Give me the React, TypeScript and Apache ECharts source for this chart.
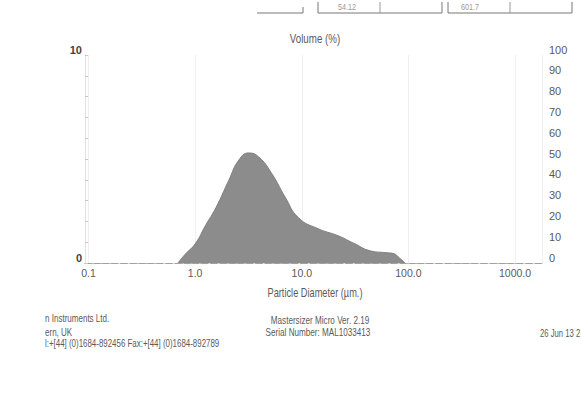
import React, { useEffect, useRef } from "react";
import * as echarts from "echarts";

const diameters = [0.69, 0.8, 1.0, 1.25, 1.57, 2.07, 2.57, 3.18, 3.94, 5.2, 7.0, 9.3, 14.2, 21.9, 31.5, 44.3, 63.8, 74, 80, 93];
const volumes = [0, 0.4, 0.92, 1.8, 2.67, 3.98, 4.95, 5.29, 5.1, 4.32, 3.16, 2.18, 1.65, 1.31, 0.92, 0.58, 0.49, 0.44, 0.3, 0];
const xTickLabels = ["0.1", "1.0", "10.0", "100.0", "1000.0"];
const leftTicks = [0, 10];
const rightTicks = [0, 10, 20, 30, 40, 50, 60, 70, 80, 90, 100];

const FONT = '"Liberation Sans", Arial, sans-serif';
const INK = "#5a5a5a";

export default function App() {
  const ref = useRef<HTMLDivElement>(null);
  useEffect(() => {
    if (!ref.current) return;
    const chart = echarts.init(ref.current, null, { renderer: "svg" });
    const data = diameters.map((d, i) => [d, volumes[i]]);
    const fmtX = (v: number) => {
      const lg = Math.round(Math.log10(v));
      if (Math.abs(Math.log10(v) - lg) > 0.01) return "";
      return xTickLabels[lg + 1] ?? "";
    };
    const txt = (text: string, x: number, y: number, size: number, sx: number, align: string = "left", fill: string = INK) => ({
      type: "text",
      x,
      y,
      scaleX: sx,
      style: { text, font: `${size}px ${FONT}`, fill, textAlign: align, textVerticalAlign: "middle" },
    });
    chart.setOption({
      animation: false,
      backgroundColor: "#ffffff",
      textStyle: { fontFamily: FONT },
      grid: { left: 85, right: 39, top: 55, bottom: 157, containLabel: false },
      xAxis: [
        {
          type: "log",
          logBase: 10,
          min: 0.0927,
          max: 1790,
          position: "bottom",
          axisLine: { show: true, lineStyle: { color: "#b5b5b5", width: 1, type: [3, 2] } },
          axisTick: { show: false },
          axisLabel: {
            fontFamily: FONT,
            fontSize: 10.5,
            color: INK,
            margin: 4,
            showMinLabel: false,
            showMaxLabel: false,
            formatter: fmtX,
          },
          splitLine: { show: true, lineStyle: { color: "#f1f1f1", width: 1 } },
        },
        {
          type: "log",
          logBase: 10,
          min: 0.0927,
          max: 1790,
          position: "top",
          axisLine: { show: true, lineStyle: { color: "#a0a0a0", width: 1, type: [6, 3] } },
          axisTick: { show: false },
          axisLabel: { show: false },
          splitLine: { show: false },
        },
      ],
      yAxis: [
        {
          type: "value",
          min: 0,
          max: 10,
          interval: 1,
          position: "left",
          axisLine: { show: true, lineStyle: { color: "#e2e2e2" } },
          axisTick: { show: true, inside: true, length: 3, lineStyle: { color: "#c8c8c8" } },
          axisLabel: {
            fontFamily: FONT,
            fontSize: 11,
            color: "#444",
            fontWeight: "bold",
            margin: 3,
            verticalAlign: "bottom",
            formatter: (v: number) => (leftTicks.includes(v) ? String(v) : ""),
          },
          splitLine: { show: false },
        },
        {
          type: "value",
          min: 0,
          max: 100,
          interval: 10,
          position: "right",
          axisLine: { show: false },
          axisTick: { show: false },
          axisLabel: {
            fontFamily: FONT,
            fontSize: 11,
            color: INK,
            margin: 7,
            align: "left",
            verticalAlign: "bottom",
            formatter: (v: number) => (rightTicks.includes(v) ? String(v) : ""),
          },
          splitLine: { show: false },
        },
      ],
      series: [
        {
          type: "line",
          xAxisIndex: 0,
          yAxisIndex: 0,
          data,
          smooth: 0.5,
          symbol: "none",
          lineStyle: { color: "#7e7e7e", width: 1 },
          areaStyle: { color: "#8c8c8c", opacity: 1 },
        },
      ],
      graphic: [
        txt("Volume (%)", 315, 38, 13, 0.75, "center"),
        txt("Particle Diameter (\u00b5m.)", 315, 292, 13, 0.71, "center"),
        // header table remnants
        { type: "line", shape: { x1: 257, y1: 13, x2: 303, y2: 13 }, style: { stroke: "#777", lineWidth: 1 } },
        { type: "line", shape: { x1: 303, y1: 7, x2: 303, y2: 13 }, style: { stroke: "#777", lineWidth: 1 } },
        { type: "polyline", shape: { points: [[318, 2], [318, 13], [442, 13], [442, 2]] }, style: { stroke: "#777", lineWidth: 1, fill: "none" } },
        { type: "line", shape: { x1: 380, y1: 2, x2: 380, y2: 13 }, style: { stroke: "#999", lineWidth: 1 } },
        { type: "polyline", shape: { points: [[448, 2], [448, 13], [572, 13], [572, 2]] }, style: { stroke: "#777", lineWidth: 1, fill: "none" } },
        { type: "line", shape: { x1: 510, y1: 2, x2: 510, y2: 13 }, style: { stroke: "#999", lineWidth: 1 } },
        txt("54.12", 347, 7, 9, 0.8, "center", "#999"),
        txt("601.7", 470, 7, 9, 0.8, "center", "#999"),
        // footer
        txt("n Instruments Ltd.", 45, 318, 11, 0.73),
        txt("ern, UK", 45, 332, 11, 0.73),
        txt("l:+[44] (0)1684-892456 Fax:+[44] (0)1684-892789", 45, 343, 11, 0.72),
        txt("Mastersizer Micro Ver. 2.19", 320, 320, 11, 0.74, "center"),
        txt("Serial Number: MAL1033413", 318, 332, 11, 0.74, "center"),
        txt("26 Jun 13 2", 540, 333, 11, 0.7),
      ],
    });
    return () => chart.dispose();
  }, []);
  return (
    <div
      ref={ref}
      style={{ position: "absolute", left: 0, top: 0, width: 581, height: 420, background: "#fff" }}
    />
  );
}
